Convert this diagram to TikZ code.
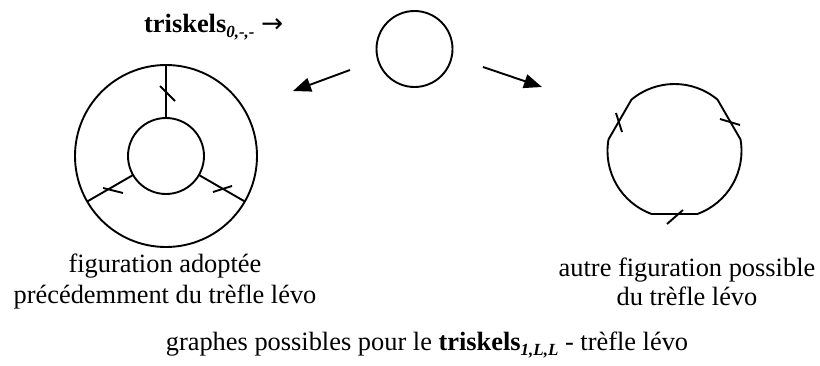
\documentclass[tikz,border=0pt]{standalone}
\usepackage{fontspec}
\setmainfont{Liberation Serif}
\newfontfamily\symfont{DejaVu Sans}
\usetikzlibrary{arrows.meta}
\begin{document}
\begin{tikzpicture}[x=1pt,y=1pt,
  ln/.style={line width=1.9pt},
  ring/.style={circle,draw,line width=1.9pt,inner sep=0pt,outer sep=0pt},
  arr/.style={line width=1.9pt,-{Triangle[length=18pt,width=14pt]}},
  txt/.style={font=\fontsize{26.4}{30}\selectfont,inner sep=0pt}]
\useasboundingbox (0,0) rectangle (820,365);

% top
\node[txt,anchor=base west] (title) at (144,332)
  {\textbf{triskels}\raisebox{-5pt}{\fontsize{17}{17}\selectfont\textbf{\textit{0,-,-}}} {\symfont →}};
\node[ring,minimum size=76pt] (small) at (414.5,316) {};
\coordinate (a1s) at (350,295);
\coordinate (a1e) at (293,274);
\coordinate (a2s) at (483,298);
\coordinate (a2e) at (542,278);
\draw[arr] (a1s) -- (a1e);
\draw[arr] (a2s) -- (a2e);

% left figure
\node[ring,minimum size=182pt] (outer) at (166,209) {};
\node[ring,minimum size=76pt] (inner) at (166,209) {};
\draw[ln] (inner.90) -- (outer.90);
\draw[ln] (inner.210) -- (outer.210);
\draw[ln] (inner.330) -- (outer.330);
\draw[ln] (160,279) -- (175,264);
\draw[ln] (103,177) -- (123,172);
\draw[ln] (213,173) -- (232,179);

% right figure
\begin{scope}[shift={(674.5,214)}]
  \draw[ln,line join=round] (50:67) arc[start angle=50,end angle=130,radius=67]
    -- (170:67) arc[start angle=170,end angle=250,radius=67]
    -- (290:67) arc[start angle=290,end angle=370,radius=67] -- cycle;
\end{scope}
\draw[ln] (616,252) -- (622,233);
\draw[ln] (720,246) -- (740,240);
\draw[ln] (667,141) -- (683,155);

% captions
\node[txt,anchor=base] (capL1) at (165,92.3) {figuration adoptée};
\node[txt,anchor=base] (capL2) at (165,61.7) {précédemment du trèfle lévo};
\node[txt,anchor=base] (capR1) at (687,88.3) {autre figuration possible};
\node[txt,anchor=base] (capR2) at (687,60) {du trèfle lévo};
\node[txt,anchor=base] (caption) at (427,15)
  {graphes possibles pour le \textbf{triskels}\raisebox{-5pt}{\fontsize{17}{17}\selectfont\textbf{\textit{1,L,L}}} - trèfle lévo};
\end{tikzpicture}
\end{document}
